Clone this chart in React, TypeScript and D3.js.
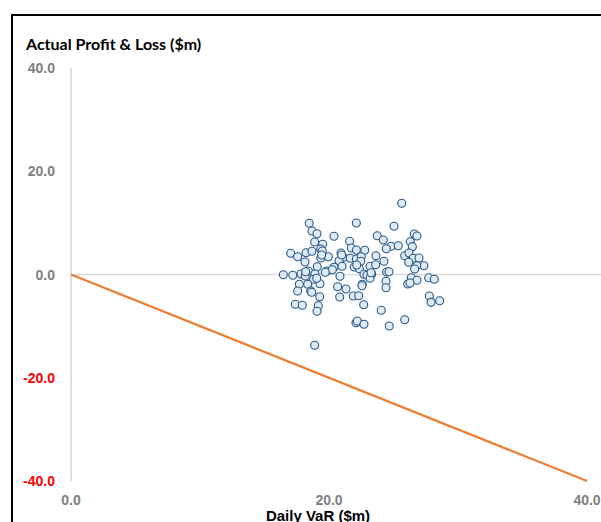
import * as d3 from 'd3';

// ── Layout ────────────────────────────────────────────────────────────────────
const VW = 601;
const VH = 522;
const X0 = 71;   // pixel of VaR = 0
const X1 = 587;  // pixel of VaR = 40
const Y0 = 68;   // pixel of P&L = 40
const Y1 = 481;  // pixel of P&L = -40

// ── Data ──────────────────────────────────────────────────────────────────────
const VAR = [
  25.64, 18.47, 22.12, 25.04, 18.68, 19.07, 20.39, 23.74, 26.61, 26.82,
  24.21, 21.6, 18.89, 19.51, 26.3, 24.81, 25.37, 24.44, 26.46, 21.73,
  19.36, 17.03, 17.57, 18.22, 18.68, 19.48, 22.12, 22.77, 20.93, 19.36,
  19.95, 21.11, 21.65, 22.12, 22.5, 23.64, 25.87, 26.2, 26.53, 26.98,
  18.14, 20.78, 22.46, 24.26, 26.18, 27.36, 26.8, 20.39, 21.01, 21.96,
  22.35, 23.18, 23.62, 19.09, 19.82, 20.26, 18.4, 26.64, 16.46, 17.19,
  17.83, 18.16, 18.91, 19.71, 20.85, 22.71, 22.95, 23.31, 24.47, 24.65,
  26.38, 27.73, 28.16, 18.81, 19.3, 17.7, 18.35, 23.18, 24.42, 26.82,
  26.1, 26.28, 22.58, 22.56, 20.67, 21.32, 24.42, 17.57, 18.58, 18.66,
  19.28, 20.83, 21.88, 22.3, 27.78, 27.91, 28.58, 17.39, 17.93, 22.69,
  19.17, 19.07, 24.05, 25.87, 22.09, 22.19, 22.71, 24.67, 18.89,
  19.43, 18.19, 19.05, 23.26, 20.98, 22.15,
];
const PNL = [
  13.79, 9.92, 9.98, 9.34, 8.43, 7.9, 7.4, 7.52, 7.85, 7.46,
  6.68, 6.43, 6.3, 5.85, 6.35, 5.46, 5.58, 5.0, 5.39, 5.13,
  4.94, 4.11, 3.45, 4.22, 4.49, 4.55, 4.75, 4.69, 4.16, 3.2,
  3.45, 3.33, 3.14, 3.0, 3.45, 3.64, 3.64, 4.16, 3.14, 3.2,
  2.42, 2.67, 2.56, 2.56, 2.36, 1.7, 1.7, 1.39, 1.59, 1.45,
  1.12, 1.59, 1.9, 1.51, 0.68, 0.93, 0.68, 1.07, -0.04, -0.15,
  0.1, -0.29, 0.1, 0.43, -0.35, 0.04, -0.15, 0.1, 0.48, 0.54,
  -0.62, -0.62, -0.93, -0.93, -1.78, -1.9, -1.9, -0.74, -1.32, -1.12,
  -1.84, -1.65, -1.9, -2.17, -2.36, -2.81, -2.56, -3.2, -3.2, -3.45,
  -4.3, -4.36, -4.16, -4.11, -4.16, -5.39, -5.08, -5.77, -5.97, -5.85,
  -6.04, -7.13, -6.93, -8.76, -9.34, -9.01, -9.65, -9.98, -13.71,
  3.78, 0.54, -0.74, 0.35, 3.78, 1.84,
];
const X_TICKS = [0, 20, 40];
const Y_TICKS = [40, 20, 0, -20, -40];
const LINE_X = [0, 40]; // P&L = -VaR reference line

// ── Colors ────────────────────────────────────────────────────────────────────
const ORANGE = '#ed7d31';
const DOT_FILL = '#ddebf7';
const DOT_STROKE = '#2a5885';
const TICK_GRAY = '#808080';
const AXIS_GRAY = '#bfbfbf';
const SANS = "'Liberation Sans', Arial, sans-serif";

export default function App() {
  const x = d3.scaleLinear().domain([0, 40]).range([X0, X1]);
  const y = d3.scaleLinear().domain([-40, 40]).range([Y1, Y0]);

  const line = d3.line<number>().x(v => x(v)).y(v => y(-v));
  const pts = VAR.map((v, i) => ({ v, p: PNL[i] }));

  return (
    <svg
      width={VW}
      height={VH}
      viewBox={`0 0 ${VW} ${VH}`}
      style={{ position: 'absolute', left: 0, top: 0, background: '#fff' }}
    >
      {/* chart frame, runs off the right and bottom edges */}
      <rect x={12} y={15} width={VW + 20} height={VH + 20} fill="#fff" stroke="#000" strokeWidth={2} />

      <text x={26} y={50} fontFamily="Lato, 'Open Sans', sans-serif" fontWeight={700} fontSize={16} fill="#000">
        Actual Profit &amp; Loss ($m)
      </text>

      {/* axes */}
      <line x1={x(0)} x2={x(0)} y1={y(40)} y2={y(-40)} stroke={AXIS_GRAY} strokeWidth={1} />
      <line x1={x(0)} x2={VW} y1={y(0)} y2={y(0)} stroke="#d9d9d9" strokeWidth={1.5} />

      {Y_TICKS.map(t => (
        <text
          key={t}
          x={55} y={y(t)}
          textAnchor="end" dominantBaseline="central"
          fontFamily={SANS} fontWeight={700} fontSize={14}
          fill={t < 0 ? '#ff0000' : TICK_GRAY}
        >
          {t.toFixed(1)}
        </text>
      ))}

      {X_TICKS.map(t => (
        <text
          key={t}
          x={x(t)} y={500}
          textAnchor="middle" dominantBaseline="central"
          fontFamily={SANS} fontWeight={700} fontSize={14}
          fill={TICK_GRAY}
        >
          {t.toFixed(1)}
        </text>
      ))}

      <text
        x={318} y={521}
        textAnchor="middle"
        fontFamily={SANS} fontWeight={700} fontSize={15}
        fill="#000"
      >
        Daily VaR ($m)
      </text>

      <path d={line(LINE_X) ?? ''} fill="none" stroke={ORANGE} strokeWidth={2.25} />

      {pts.map((d, i) => (
        <circle
          key={i}
          cx={x(d.v)} cy={y(d.p)} r={4}
          fill={DOT_FILL} stroke={DOT_STROKE} strokeWidth={1.1}
        />
      ))}
    </svg>
  );
}
